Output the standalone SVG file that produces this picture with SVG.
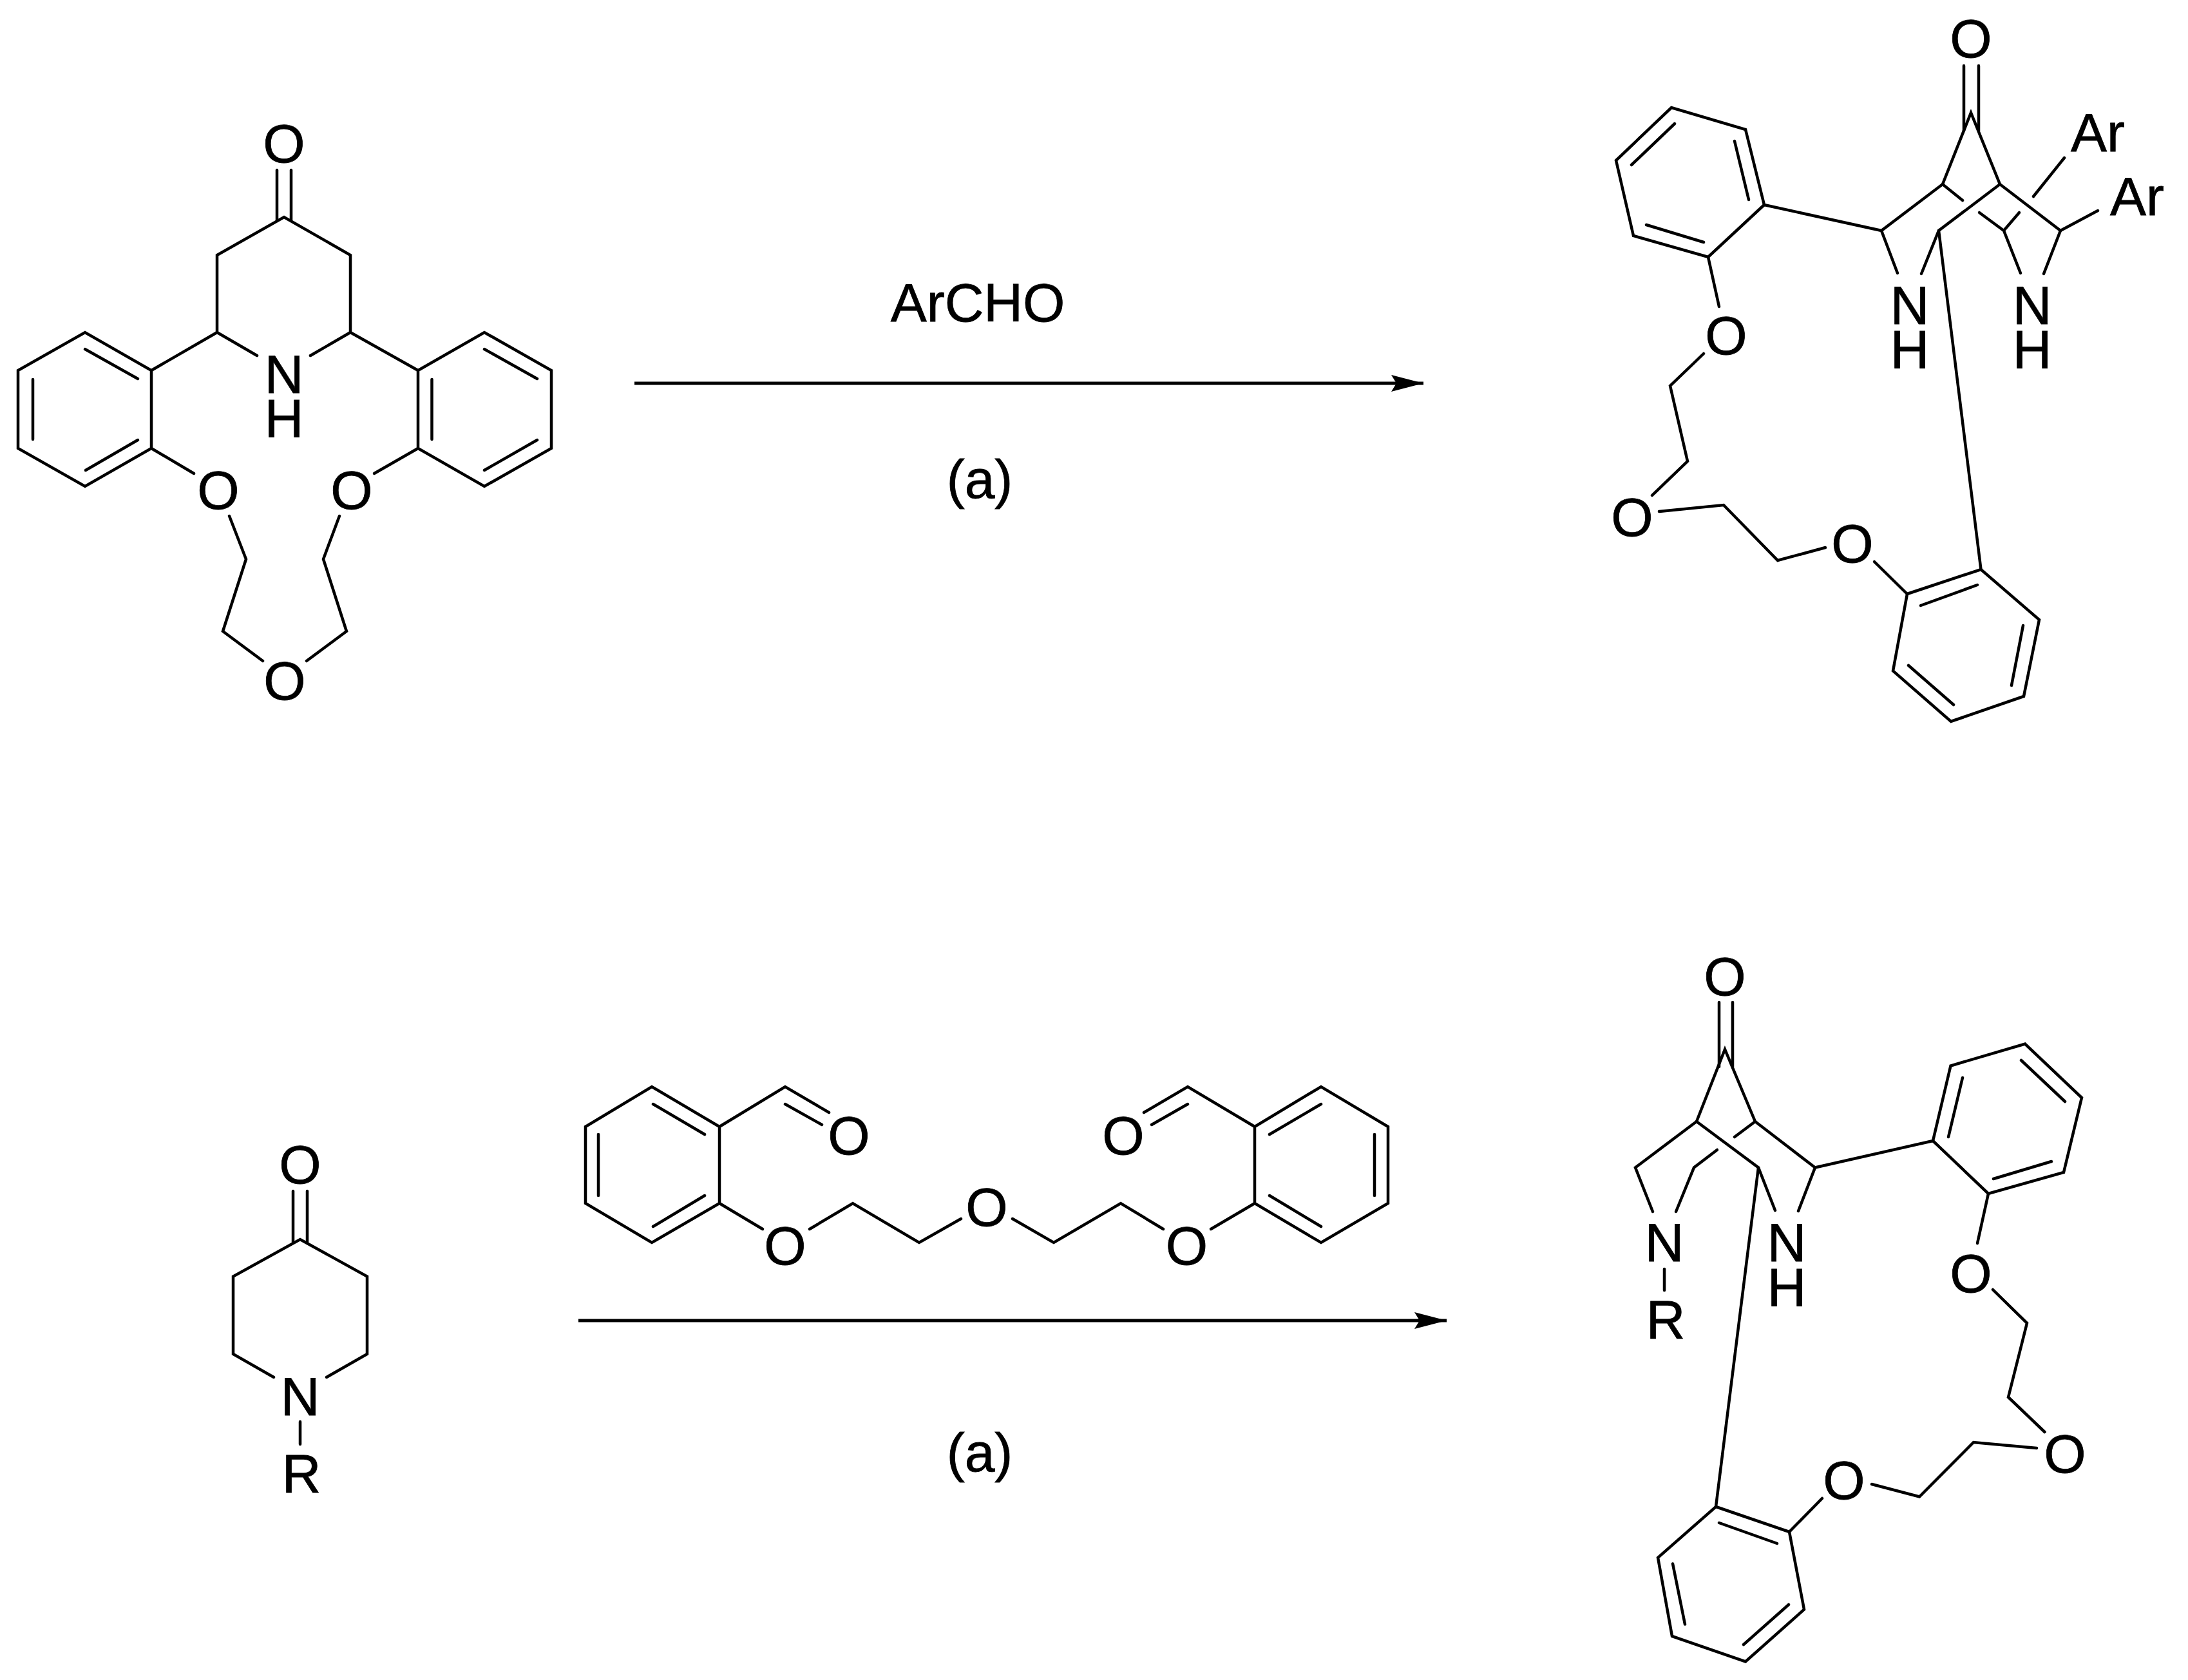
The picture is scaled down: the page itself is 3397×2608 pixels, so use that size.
<svg xmlns="http://www.w3.org/2000/svg" width="3397" height="2608" viewBox="0 0 3397 2608">
<style>
.b{fill:none;stroke:#000;stroke-width:4.500;stroke-linejoin:miter;stroke-linecap:round}
.t{font-family:"Liberation Sans",Arial,sans-serif;font-size:84px;fill:#000;stroke:#000;stroke-width:0.800;text-anchor:middle}
.a{fill:none;stroke:#000;stroke-width:5}
</style>
<defs>
<marker id="head" markerUnits="userSpaceOnUse" markerWidth="52" markerHeight="30" refX="50" refY="14" orient="auto" viewBox="0 0 52 28">
<path d="M0,1 L50,14 L0,27 L8,14 Z" fill="#000"/>
</marker>
</defs>
<rect width="3397" height="2608" fill="#fff"/>

<g id="mol-macrocycle">
<path class="b" d="M430,264V342M452,264V342"/>
<path class="b" d="M337,516V396L441,337L544,396V516"/>
<path class="b" d="M399,552L337,516M482,552L544,516"/>
<path class="b" d="M337,516L235,575"/>
<path class="b" d="M235,575V696L132,755L28,696V575L132,516Z"/>
<path class="b" d="M132,542L214,588M51,589V682M133,730L214,683"/>
<path class="b" d="M235,696L301,735"/>
<path class="b" d="M356,801L382,868L346,980L408,1026"/>
<path class="b" d="M544,516L649,575"/>
<path class="b" d="M649,575V696L752,755L856,696V575L752,516Z"/>
<path class="b" d="M670.500,589V682M752,542L834,588M752,730L834,683"/>
<path class="b" d="M649,696L581,735"/>
<path class="b" d="M527,801L502,868L538,980L476,1026"/>
<text class="t" x="441" y="252">O</text>
<text class="t"><tspan x="441" y="610">N</tspan><tspan x="441" y="679">H</tspan></text>
<text class="t" x="339" y="790">O</text>
<text class="t" x="546" y="790">O</text>
<text class="t" x="442" y="1086">O</text>
</g>

<g id="mol-product-top">
<path class="b" d="M3049,102V203M3072,102V203"/>
<path class="b" d="M3016,286L3060,175L3105,286"/>
<path class="b" d="M2739,318L2921,358L3016,286L3047,311"/>
<path class="b" d="M2921,358L2946,424"/>
<path class="b" d="M2983,425L3010,358L3105,286L3199,358L3173,425"/>
<path class="b" d="M3010,358L3075.500,884"/>
<path class="b" d="M3199,358L3257,327M3157,305L3205,245"/>
<path class="b" d="M3073,330L3111,358L3135,330M3111,358L3137,424"/>
<path class="b" d="M2739,318L2652,399L2536,366L2509,249L2595,167L2710,201Z"/>
<path class="b" d="M2693,219L2715,310M2600,192L2533,256M2556,349L2645,376"/>
<path class="b" d="M2652,399L2669,476"/>
<path class="b" d="M2645,549L2593,599L2620,716L2565,769"/>
<path class="b" d="M2576,794L2676,784L2760,870L2834,850"/>
<path class="b" d="M2910,872L2961,922"/>
<path class="b" d="M2961,922L3075.500,884L3166,962L3142,1081L3029,1120L2939,1041.500Z"/>
<path class="b" d="M2982,940L3070,908M3141,971L3123,1064M3033,1094L2963,1033"/>
<text class="t" x="3060" y="89">O</text>
<text class="t"><tspan x="2965" y="503">N</tspan><tspan x="2965" y="572">H</tspan></text>
<text class="t"><tspan x="3155" y="503">N</tspan><tspan x="3155" y="572">H</tspan></text>
<text class="t" x="3257" y="235">Ar</text>
<text class="t" x="3318" y="334">Ar</text>
<text class="t" x="2680" y="550">O</text>
<text class="t" x="2534" y="832">O</text>
<text class="t" x="2876" y="873">O</text>
</g>

<g id="mol-piperidone">
<path class="b" d="M455,1849V1929M477,1849V1929"/>
<path class="b" d="M425,2138L362,2102V1981.500L466,1924L570,1981.500V2102L507,2138"/>
<path class="b" d="M466,2207V2242"/>
<text class="t" x="466" y="1837">O</text>
<text class="t" x="466" y="2197">N</text>
<text class="t" x="468" y="2317">R</text>
</g>

<g id="mol-dialdehyde">
<path class="b" d="M1117,1749V1868L1012,1929L909,1868V1749L1012,1687Z"/>
<path class="b" d="M1014,1714L1094,1761M929,1761V1856M1014,1904L1094,1856"/>
<path class="b" d="M1117,1749L1219,1687L1287,1727M1219,1714L1276,1746"/>
<path class="b" d="M1117,1868L1184,1908"/>
<path class="b" d="M1257,1908L1324,1868L1427,1929L1492,1892"/>
<path class="b" d="M1572,1892L1636,1929L1740,1868L1806,1908"/>
<path class="b" d="M1880,1908L1948,1868"/>
<path class="b" d="M1948,1749V1868L2051,1929L2155,1868V1749L2051,1687Z"/>
<path class="b" d="M2051,1714L1971,1761M2134,1761V1856M2051,1904L1971,1856"/>
<path class="b" d="M1948,1749L1844,1687L1776,1727M1844,1714L1788,1746"/>
<text class="t" x="1318" y="1792">O</text>
<text class="t" x="1744" y="1792">O</text>
<text class="t" x="1219" y="1963">O</text>
<text class="t" x="1532" y="1903">O</text>
<text class="t" x="1842.500" y="1963">O</text>
</g>

<g id="mol-product-bottom">
<path class="b" d="M2669,1556V1656M2690,1556V1656"/>
<path class="b" d="M2634,1741L2678,1629L2725,1741"/>
<path class="b" d="M2566,1881L2539,1812.500L2634,1741L2730,1812.500L2756,1879"/>
<path class="b" d="M2693,1765L2725,1741L2818,1812.500L2792,1880"/>
<path class="b" d="M2666,1785L2630,1812.500L2602,1881"/>
<path class="b" d="M2730,1812.500L2664,2339"/>
<path class="b" d="M2818,1812.500L3001,1771"/>
<path class="b" d="M3001,1771L3087,1853L3204,1820L3232,1704L3144,1620.500L3028.500,1654.500Z"/>
<path class="b" d="M3047,1673L3025,1765M3138,1646L3206,1710M3095,1830L3185,1803"/>
<path class="b" d="M3087,1853L3070,1930"/>
<path class="b" d="M3094,2002L3147,2054L3118,2169L3174.500,2223"/>
<path class="b" d="M3162,2248L3064,2239L2980,2323.500L2906,2304"/>
<path class="b" d="M2829,2326L2778,2378"/>
<path class="b" d="M2664,2339L2778,2378L2801,2498.500L2710,2579.500L2596,2540L2574,2418Z"/>
<path class="b" d="M2669,2364L2759,2396M2597,2427.500L2616,2521.500M2707,2553L2777,2491"/>
<path class="b" d="M2584,1970V2003"/>
<text class="t" x="2678" y="1545">O</text>
<text class="t" x="2584" y="1958">N</text>
<text class="t" x="2586" y="2078">R</text>
<text class="t"><tspan x="2774" y="1958">N</tspan><tspan x="2774" y="2028">H</tspan></text>
<text class="t" x="3060" y="2006">O</text>
<text class="t" x="3206" y="2286">O</text>
<text class="t" x="2863" y="2327">O</text>
</g>

<g id="connectors">
<line class="a" x1="985" y1="595" x2="2210" y2="595" marker-end="url(#head)"/>
<line class="a" x1="898" y1="2050" x2="2246" y2="2050" marker-end="url(#head)"/>
</g>
<g id="labels">
<text class="t" x="1518" y="499">ArCHO</text>
<text class="t" x="1521" y="773">(a)</text>
<text class="t" x="1521" y="2284">(a)</text>
</g>
</svg>
